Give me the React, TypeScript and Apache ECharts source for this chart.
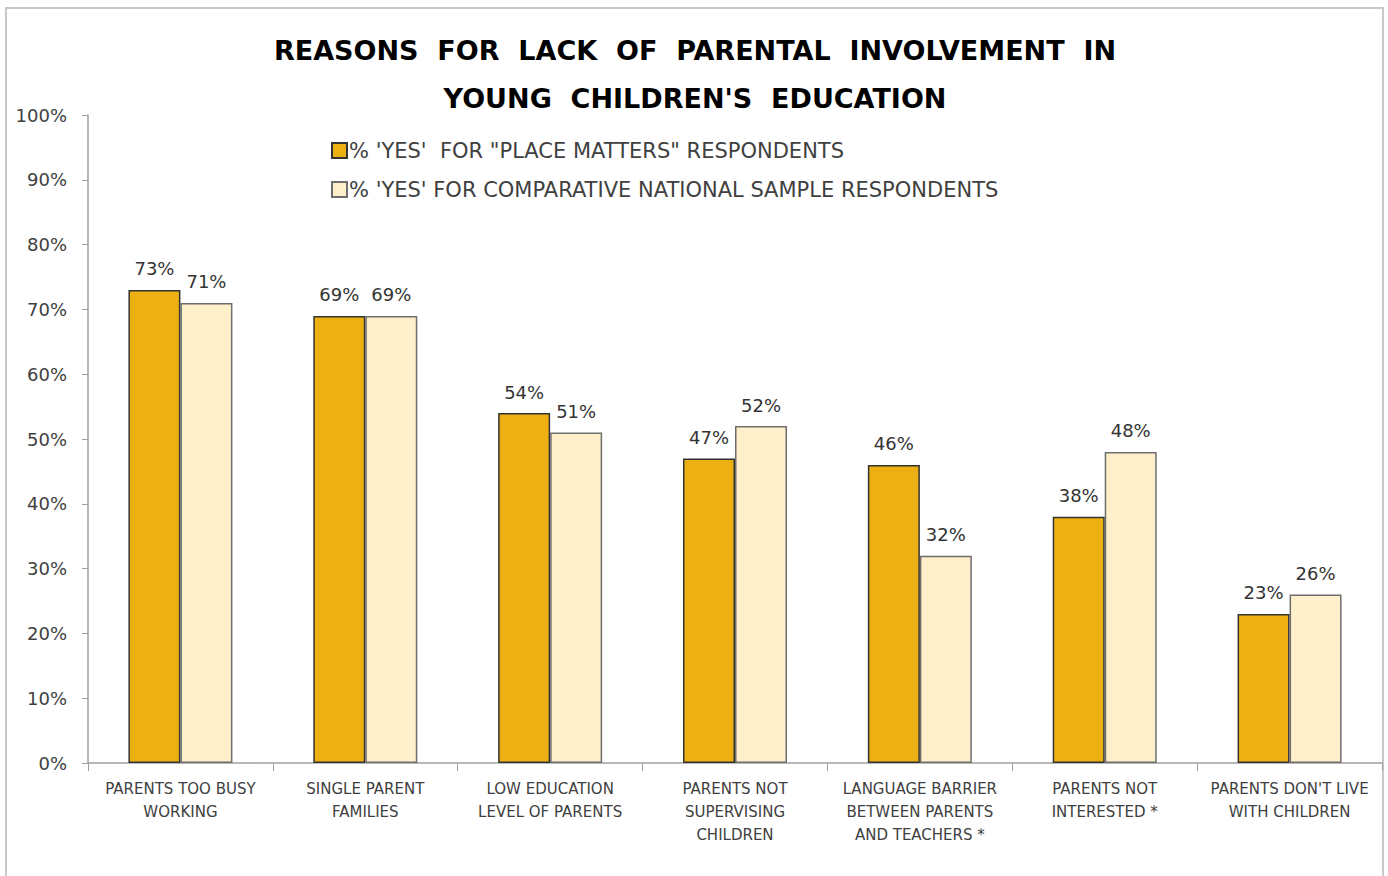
import React, { useEffect, useRef } from "react";
import * as echarts from "echarts";

const categories = [
  "PARENTS TOO BUSY\nWORKING",
  "SINGLE PARENT\nFAMILIES",
  "LOW EDUCATION\nLEVEL OF PARENTS",
  "PARENTS NOT\nSUPERVISING\nCHILDREN",
  "LANGUAGE BARRIER\nBETWEEN PARENTS\nAND TEACHERS *",
  "PARENTS NOT\nINTERESTED *",
  "PARENTS DON'T LIVE\nWITH CHILDREN",
];
const placeMatters = [73, 69, 54, 47, 46, 38, 23];
const nationalSample = [71, 69, 51, 52, 32, 48, 26];
const seriesNames = [
  "% 'YES'  FOR \"PLACE MATTERS\" RESPONDENTS",
  "% 'YES' FOR COMPARATIVE NATIONAL SAMPLE RESPONDENTS",
];
const titleLines = [
  "REASONS  FOR  LACK  OF  PARENTAL  INVOLVEMENT  IN",
  "YOUNG  CHILDREN'S  EDUCATION",
];

const FONT = "'DejaVu Sans', sans-serif";
const TEXT = "#404040";

export default function App() {
  const ref = useRef<HTMLDivElement>(null);

  useEffect(() => {
    if (!ref.current) return;
    const chart = echarts.init(ref.current, undefined, { renderer: "svg" });
    const label = {
      show: true,
      position: "top" as const,
      distance: 12,
      formatter: "{c}%",
      fontFamily: FONT,
      fontSize: 18,
      color: "#333",
    };
    chart.setOption({
      animation: false,
      backgroundColor: "#fff",
      textStyle: { fontFamily: FONT },
      graphic: [
        {
          type: "rect",
          shape: { x: 6, y: 8, width: 1377, height: 900 },
          style: { fill: "none", stroke: "#c8c8c8", lineWidth: 2 },
          silent: true,
          z: -1,
        },
        {
          type: "text",
          x: 695,
          y: 50,
          style: {
            text: titleLines[0],
            font: `bold 27px ${FONT}`,
            fill: "#000",
            align: "center",
            verticalAlign: "middle",
          },
        },
        {
          type: "text",
          x: 695,
          y: 98,
          style: {
            text: titleLines[1],
            font: `bold 27px ${FONT}`,
            fill: "#000",
            align: "center",
            verticalAlign: "middle",
          },
        },
      ],
      legend: {
        orient: "vertical",
        left: 326,
        top: 135,
        itemWidth: 15,
        itemHeight: 15,
        itemGap: 18,
        icon: "rect",
        textStyle: { fontFamily: FONT, fontSize: 21, color: TEXT, padding: [0, 0, 0, -3] },
        data: seriesNames,
      },
      grid: { left: 88, right: 6, top: 115, bottom: 113, containLabel: false },
      xAxis: {
        type: "category",
        data: categories,
        axisLine: { lineStyle: { color: "#a0a0a0", width: 1.5 } },
        axisTick: { show: true, length: 8, lineStyle: { color: "#a0a0a0" } },
        axisLabel: {
          interval: 0,
          margin: 14,
          fontFamily: FONT,
          fontSize: 15,
          lineHeight: 23,
          color: TEXT,
        },
      },
      yAxis: {
        type: "value",
        min: 0,
        max: 100,
        interval: 10,
        axisLine: { show: true, lineStyle: { color: "#a0a0a0", width: 1.5 } },
        axisTick: { show: true, length: 6, lineStyle: { color: "#a0a0a0" } },
        splitLine: { show: false },
        axisLabel: {
          formatter: "{value}%",
          margin: 21,
          fontFamily: FONT,
          fontSize: 18,
          color: TEXT,
        },
      },
      series: [
        {
          name: seriesNames[0],
          type: "bar",
          data: placeMatters,
          barWidth: 52,
          barGap: "0%",
          itemStyle: { color: "#EDB012", borderColor: "#333", borderWidth: 1.5 },
          label,
        },
        {
          name: seriesNames[1],
          type: "bar",
          data: nationalSample,
          barWidth: 52,
          barGap: "0%",
          itemStyle: { color: "#FFF0CB", borderColor: "#6e6e6e", borderWidth: 1.5 },
          label,
        },
      ],
    });
    return () => chart.dispose();
  }, []);

  return (
    <div
      ref={ref}
      style={{ position: "fixed", left: 0, top: 0, width: 1388, height: 876 }}
    />
  );
}
